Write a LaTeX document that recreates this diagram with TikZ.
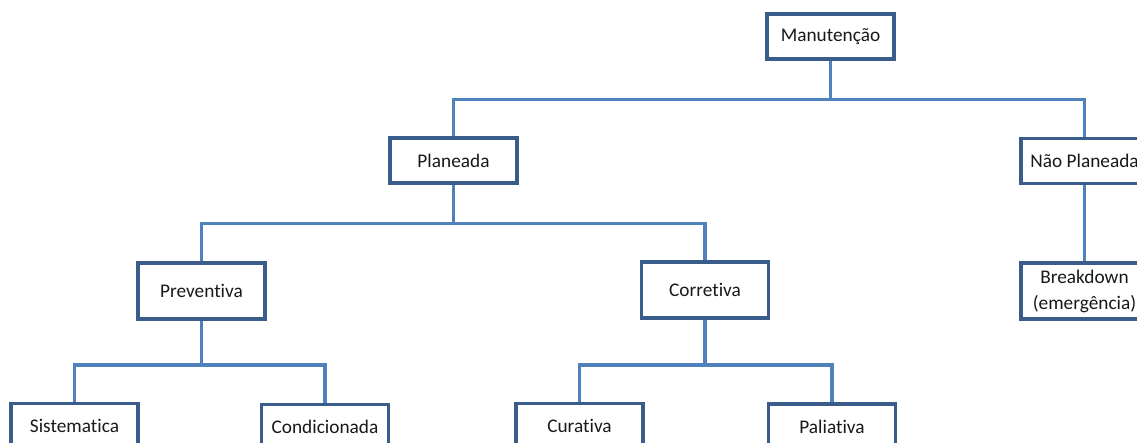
\documentclass[tikz,border=0pt]{standalone}
\usepackage{fontspec}
\setmainfont[Ligatures=NoCommon]{Carlito}
\usetikzlibrary{calc}
\definecolor{boxblue}{HTML}{3A5C8A}
\definecolor{linkblue}{HTML}{4F81BD}
\pgfdeclarelayer{bg}
\pgfsetlayers{bg,main}
\begin{document}
\begin{tikzpicture}[x=1pt,y=-1pt,
  box/.style={draw=boxblue, line width=3.2pt, fill=white, minimum width=127pt,
    minimum height=45pt, inner sep=0pt, text=black!90, align=center,
    font=\fontsize{19.3}{26}\selectfont},
  tallbox/.style={minimum height=56pt},
  link/.style={draw=linkblue, line width=3.8pt}]
\useasboundingbox (0,0) rectangle (1137,443);
\clip (0,0) rectangle (1137,443);

% boxes of the maintenance tree
\node[box] (man) at (830.5,36.5) {Manutenção};
\node[box] (pla) at (453.5,160.5) {Planeada};
\node[box] (nao) at (1084.5,161) {Não Planeada};
\node[box,tallbox] (pre) at (201.5,291) {Preventiva};
\node[box,tallbox] (cor) at (705,290) {Corretiva};
\node[box,tallbox] (bre) at (1084.5,291)
  {\raisebox{-5pt}{\begin{tabular}{@{}c@{}}Breakdown\\(emergência)\end{tabular}}};
\node[box] (sis) at (74.5,426) {Sistematica};
\node[box] (con) at (325,427) {Condicionada};
\node[box] (cur) at (579.5,426) {Curativa};
\node[box] (pal) at (832,426.5) {Paliativa};

% connectors behind the boxes
\begin{pgfonlayer}{bg}
  \path (man.south) ++(0,39) coordinate (b1);
  \draw[link] (man.south) -- (b1);
  \draw[link] (pla.north) |- (b1) -| (nao.north);

  \path (pla.south) ++(0,39) coordinate (b2);
  \draw[link] (pla.south) -- (b2);
  \draw[link] (pre.north) |- (b2) -| (cor.north);

  \draw[link] (nao.south) -- (bre.north);

  \path (pre.south) ++(0,44) coordinate (b3);
  \draw[link] (pre.south) -- (b3);
  \draw[link] (sis.north) |- (b3) -| (con.north);

  \path (cor.south) ++(0,45) coordinate (b4);
  \draw[link] (cor.south) -- (b4);
  \draw[link] (cur.north) |- (b4) -| (pal.north);
\end{pgfonlayer}
\end{tikzpicture}
\end{document}
